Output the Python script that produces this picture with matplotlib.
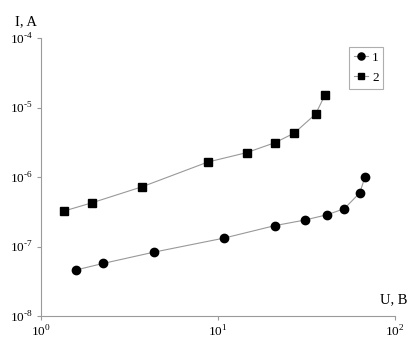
import matplotlib
matplotlib.use("Agg")
import matplotlib.pyplot as plt
from matplotlib.ticker import NullLocator

plt.rcParams["font.family"] = ["Liberation Serif", "DejaVu Serif"]
plt.rcParams["mathtext.fontset"] = "custom"
plt.rcParams["mathtext.rm"] = "Liberation Serif"

# series 1 (circles)
u1 = [1.58, 2.24, 4.35, 10.8, 21.0, 30.9, 41.5, 51.7, 63.2, 67.7]
i1 = [4.6e-8, 5.7e-8, 8.3e-8, 1.32e-7, 2.0e-7, 2.4e-7, 2.87e-7, 3.5e-7, 5.9e-7, 1.0e-6]

# series 2 (squares)
u2 = [1.35, 1.95, 3.74, 8.75, 14.5, 21.0, 27.0, 35.6, 40.2]
i2 = [3.24e-7, 4.27e-7, 7.26e-7, 1.64e-6, 2.24e-6, 3.12e-6, 4.29e-6, 8.05e-6, 1.51e-5]

x_ticks = [1, 10, 100]
x_labels = ["10$^{0}$", "10$^{1}$", "10$^{2}$"]
y_ticks = [1e-8, 1e-7, 1e-6, 1e-5, 1e-4]
y_labels = ["10$^{\\text{-}8}$", "10$^{\\text{-}7}$", "10$^{\\text{-}6}$",
            "10$^{\\text{-}5}$", "10$^{\\text{-}4}$"]

fig = plt.figure(figsize=(4.2, 3.5), dpi=100)
ax = fig.add_axes([41 / 420, 1 - 316 / 350, 354 / 420, 278 / 350])

line_kw = dict(color="#999999", linewidth=0.8, markerfacecolor="black",
               markeredgecolor="black")
ax.plot(u1, i1, marker="o", markersize=6, label="1", **line_kw)
ax.plot(u2, i2, marker="s", markersize=5.5, label="2", **line_kw)

ax.set_xscale("log")
ax.set_yscale("log")
ax.set_xlim(1, 100)
ax.set_ylim(1e-8, 1e-4)
ax.set_xticks(x_ticks)
ax.set_xticklabels(x_labels)
ax.set_yticks(y_ticks)
ax.set_yticklabels(y_labels)
ax.xaxis.set_minor_locator(NullLocator())
ax.yaxis.set_minor_locator(NullLocator())

for side in ("top", "right"):
    ax.spines[side].set_visible(False)
for side in ("left", "bottom"):
    ax.spines[side].set_color("#9a9a9a")
    ax.spines[side].set_linewidth(0.8)
ax.tick_params(axis="both", direction="out", length=3, width=0.8,
               color="#9a9a9a", labelsize=9.5, pad=3)

fig.text(15 / 420, 1 - 22 / 350, "I, A", fontsize=10.5, ha="left", va="center")
fig.text(407 / 420, 1 - 300 / 350, "U, B", fontsize=10.5, ha="right", va="center")

leg = ax.legend(loc="upper left", bbox_to_anchor=(349 / 420, 1 - 47 / 350),
                bbox_transform=fig.transFigure, frameon=True, fancybox=False,
                fontsize=9.5, handlelength=1.1, handletextpad=0.3,
                borderpad=0.35, labelspacing=0.6, markerscale=0.85,
                borderaxespad=0)
leg.get_frame().set_edgecolor("#9a9a9a")
leg.get_frame().set_linewidth(0.8)

fig.savefig("out.png", dpi=100, facecolor="white")
